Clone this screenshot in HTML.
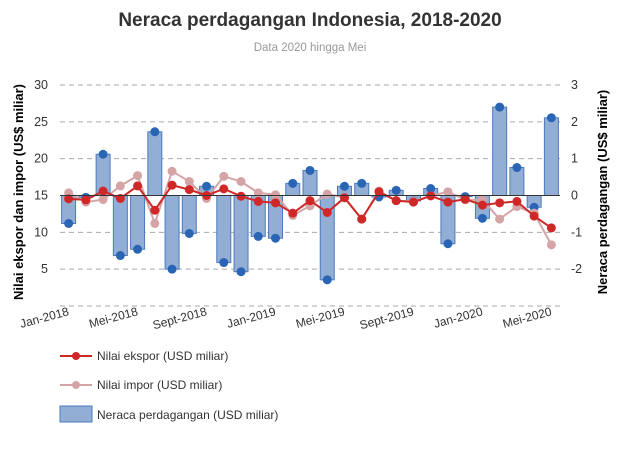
<!DOCTYPE html>
<html><head><meta charset="utf-8"><style>
body{margin:0;background:#fff;}
svg{font-family:"Liberation Sans",sans-serif;}
</style></head><body>
<svg id="c" width="627" height="446">
<text x="310" y="26" text-anchor="middle" font-size="19" font-weight="bold" fill="#333">Neraca perdagangan Indonesia, 2018-2020</text>
<text x="310" y="51" text-anchor="middle" font-size="11.5" fill="#999">Data 2020 hingga Mei</text>
<g id="grid"></g><g id="bars"></g><g id="lines"></g><g id="axes"></g>
<text transform="translate(23,192) rotate(-90)" text-anchor="middle" font-size="13" font-weight="bold" fill="#000">Nilai ekspor dan impor (US$ miliar)</text>
<text transform="translate(607,192) rotate(-90)" text-anchor="middle" font-size="13" font-weight="bold" fill="#000">Neraca perdagangan (US$ miliar)</text>
<g>
<g><line x1="60" y1="356" x2="92" y2="356" stroke="#d02828" stroke-width="2"/><circle cx="76" cy="356" r="4" fill="#d02828"/><text x="97" y="360" font-size="12" fill="#333">Nilai ekspor (USD miliar)</text></g>
<g><line x1="60" y1="385" x2="92" y2="385" stroke="#d4a4a6" stroke-width="2"/><circle cx="76" cy="385" r="4" fill="#d4a4a6"/><text x="97" y="389" font-size="12" fill="#333">Nilai impor (USD miliar)</text></g>
<g><rect x="60" y="406" width="32" height="16" fill="#93aed4" stroke="#4a7bbd"/><text x="97" y="419" font-size="12" fill="#333">Neraca perdagangan (USD miliar)</text></g>
</g>
</svg>
<script>
const months=29;
const xLabels=["Jan-2018","Mei-2018","Sept-2018","Jan-2019","Mei-2019","Sept-2019","Jan-2020","Mei-2020"];
const leftTicks=[5,10,15,20,25,30];
const rightTicks=[-2,-1,0,1,2,3];
const exportsV=[14.55,14.4,15.6,14.6,16.3,13.0,16.4,15.8,15.0,15.9,14.9,14.2,14.0,12.6,14.3,12.7,14.7,11.8,15.5,14.3,14.1,14.95,14.1,14.5,13.7,14.0,14.2,12.2,10.6];
const importsV=[15.35,14.1,14.45,16.3,17.7,11.2,18.3,16.9,14.6,17.6,16.9,15.35,15.1,12.3,13.6,15.2,14.7,11.8,15.6,14.3,14.2,14.95,15.5,14.4,14.4,11.8,13.5,12.6,8.3];
const balanceV=[-0.76,-0.05,1.12,-1.63,-1.46,1.73,-2.0,-1.03,0.25,-1.82,-2.07,-1.11,-1.16,0.33,0.68,-2.29,0.25,0.33,-0.04,0.14,-0.15,0.19,-1.31,-0.03,-0.62,2.40,0.76,-0.32,2.11];
const NS="http://www.w3.org/2000/svg";
const x0=60,x1=560,band=(x1-x0)/months;
const xs=i=>x0+band*(i+0.5);
const yL=v=>306-(v)*(306-85)/30;
const yR=v=>195.5-v*(306-85)/6;
function mk(p,t,a){const e=document.createElementNS(NS,t);for(const k in a)e.setAttribute(k,a[k]);document.getElementById(p).appendChild(e);return e;}
[0].concat(leftTicks).forEach(v=>{const l=mk('grid','line',{x1:x0,x2:x1,y1:yL(v),y2:yL(v),stroke:'#aaa','stroke-dasharray':'5,4'});

});
leftTicks.forEach(v=>{const t=mk('axes','text',{x:48,y:yL(v)+4,'text-anchor':'end','font-size':12.5,fill:'#333'});t.textContent=v;

});
rightTicks.forEach(v=>{const t=mk('axes','text',{x:571,y:yR(v)+4,'font-size':12.5,fill:'#333'});t.textContent=v;

});
const z=mk('axes','line',{x1:x0,x2:x1,y1:yR(0),y2:yR(0),stroke:'#333','stroke-width':1});


xLabels.forEach((s,k)=>{const i=k*4,px=xs(i)+1,py=315;const t=mk('axes','text',{x:px,y:py,'text-anchor':'end','font-size':12,fill:'#333',transform:`rotate(-15 ${px} ${py})`});t.textContent=s;

});
balanceV.forEach((v,i)=>{const y=yR(v),y0=yR(0);const r=mk('bars','rect',{x:xs(i)-7,width:14,y:Math.min(y,y0),height:Math.abs(y-y0),fill:'#93aed4',stroke:'#4a7bbd'});


const c=mk('bars','circle',{cx:xs(i),cy:y,r:4.5,fill:'#2a64b4'});

});
function series(arr,col,name){const p=mk('lines','polyline',{points:arr.map((v,i)=>xs(i)+','+yL(v)).join(' '),fill:'none',stroke:col,'stroke-width':2});


arr.forEach((v,i)=>{const c=mk('lines','circle',{cx:xs(i),cy:yL(v),r:4.5,fill:col});

});}
series(importsV,'#d4a4a6','imports');
series(exportsV,'#d02828','exports');
</script>
</body></html>
